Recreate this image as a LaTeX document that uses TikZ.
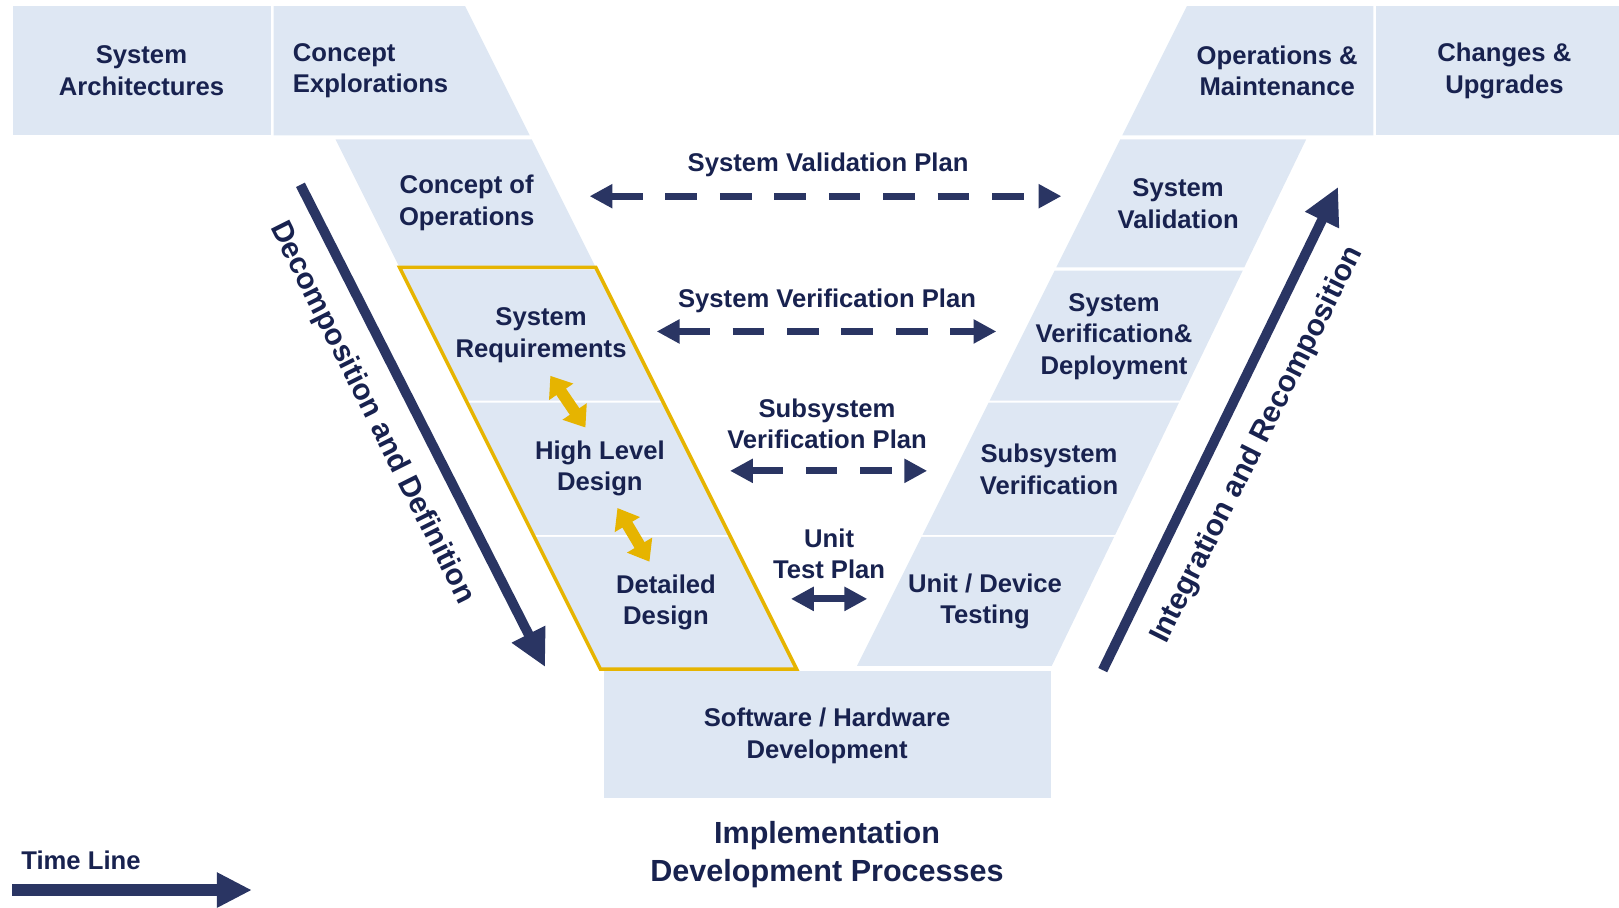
\documentclass[tikz,border=0pt]{standalone}
\usepackage{fontspec}
\setmainfont{Liberation Sans}
\usetikzlibrary{arrows.meta}
\definecolor{txt}{HTML}{18224F}
\definecolor{navy}{HTML}{2A3563}
\definecolor{boxfill}{HTML}{DEE7F3}
\definecolor{gold}{HTML}{E6B400}
\begin{document}
\begin{tikzpicture}[x=0.010325cm,y=-0.010325cm,
  lbl/.style={text=txt,font=\fontsize{7.3}{9}\selectfont\bfseries,align=center,inner sep=0pt},
  biglbl/.style={text=txt,font=\fontsize{8.7}{10.9}\selectfont\bfseries,align=center,inner sep=0pt},
  rotlbl/.style={text=txt,font=\fontsize{8.5}{10}\selectfont\bfseries,inner sep=0pt},
  shp/.style={fill=boxfill},
  planarrow/.style={draw=navy,line width=2pt,dash pattern=on 9pt off 6.5pt,{Triangle[length=6.5pt,width=6.5pt]}-{Triangle[length=6.5pt,width=6.5pt]}},
  goldarrow/.style={draw=gold,line width=3.3pt,{Triangle[length=5.5pt,width=8pt]}-{Triangle[length=5.5pt,width=8pt]}},
  bigarrow/.style={draw=navy,line width=2.8pt,-{Triangle[length=10.5pt,width=10pt]}}]
\useasboundingbox (0,0) rectangle (1568,879);
% left column shapes
\fill[shp] (13,6) rectangle (262,131);
\fill[shp] (265,6) -- (450.5,6) -- (513,131) -- (265,131) -- cycle;
\fill[shp] (325,135) -- (515,135) -- (576.5,258) -- (386.5,258) -- cycle;
\fill[shp] (388,261) -- (578,261) -- (641.5,388) -- (451.5,388) -- cycle;
\fill[shp] (452.5,390) -- (642.5,390) -- (706.5,518) -- (516.5,518) -- cycle;
\fill[shp] (517.5,520) -- (707.5,520) -- (771,647) -- (581,647) -- cycle;
\draw[gold,line width=1pt,line join=miter] (387,259) -- (577,259) -- (771.5,648) -- (581.5,648) -- cycle;
% bottom
\fill[shp] (585,650) rectangle (1018,773);
% right column shapes
\fill[shp] (1149.5,6) -- (1330,6) -- (1330,131) -- (1087,131) -- cycle;
\fill[shp] (1333,6) rectangle (1568,131);
\fill[shp] (1085,135) -- (1265,135) -- (1205,259) -- (1023,259) -- cycle;
\fill[shp] (1021.5,262) -- (1203.6,262) -- (1142.7,388) -- (958.5,388) -- cycle;
\fill[shp] (957.5,390) -- (1141.8,390) -- (1080,518) -- (893.5,518) -- cycle;
\fill[shp] (892.5,520) -- (1079,520) -- (1018.6,645) -- (830,645) -- cycle;
% labels
\node[lbl] (sa) at (137,68.5) {System\\Architectures};
\node[lbl,align=left,anchor=west] (ce) at (283,68.5) {Concept\\Explorations};
\node[lbl] (coo) at (452,196.5) {Concept of\\Operations};
\node[lbl] (sr) at (524,324.5) {System\\Requirements};
\node[lbl] (hld) at (581,453.5) {High Level\\Design};
\node[lbl] (dd) at (645,583.5) {Detailed\\Design};
\node[lbl] (swhw) at (801,712.5) {Software / Hardware\\Development};
\node[lbl] (om) at (1237,68.5) {Operations \&\\Maintenance};
\node[lbl] (cu) at (1457,68.5) {Changes \&\\Upgrades};
\node[lbl] (sval) at (1141,197.5) {System\\Validation};
\node[lbl] (svd) at (1079,326) {System\\Verification\&\\Deployment};
\node[lbl] (subv) at (1016,454.5) {Subsystem\\Verification};
\node[lbl] (udt) at (954,582.5) {Unit / Device\\Testing};
\node[lbl] (pval) at (802,160) {System Validation Plan};
\node[lbl] (pver) at (801,291) {System Verification Plan};
\node[lbl] (psub) at (801,410.5) {Subsystem\\Verification Plan};
\node[lbl] (punit) at (803,536.5) {Unit\\Test Plan};
\node[biglbl] (impl) at (801,827.5) {Implementation\\Development Processes};
\node[lbl,anchor=west] (tl) at (20,833) {Time Line};
\node[rotlbl,rotate=-63.4] (dec) at (360,400) {Decomposition and Definition};
\node[rotlbl,rotate=63.4] (intg) at (1218,431) {Integration and Recomposition};
% connector coordinates
\coordinate (valL) at (571,190); \coordinate (valR) at (1028,190);
\coordinate (verL) at (636,321); \coordinate (verR) at (965,321);
\coordinate (subL) at (707,456); \coordinate (subR) at (898,456);
\coordinate (unitL) at (766,580); \coordinate (unitR) at (840,580);
\coordinate (g1a) at (533,364); \coordinate (g1b) at (567,414);
\coordinate (g2a) at (598,492); \coordinate (g2b) at (629,544);
\coordinate (decS) at (291,179); \coordinate (decE) at (528,646);
\coordinate (intS) at (1068,649); \coordinate (intE) at (1296,181);
\coordinate (tlS) at (12,862); \coordinate (tlE) at (244,862);
% connectors
\draw[planarrow] (valL) -- (valR);
\draw[planarrow] (verL) -- (verR);
\draw[planarrow] (subL) -- (subR);
\draw[planarrow,solid] (unitL) -- (unitR);
\draw[goldarrow] (g1a) -- (g1b);
\draw[goldarrow] (g2a) -- (g2b);
\draw[bigarrow] (decS) -- (decE);
\draw[bigarrow] (intS) -- (intE);
\draw[draw=navy,line width=3.4pt,-{Triangle[length=10pt,width=9.4pt]}] (tlS) -- (tlE);
\end{tikzpicture}
\end{document}
